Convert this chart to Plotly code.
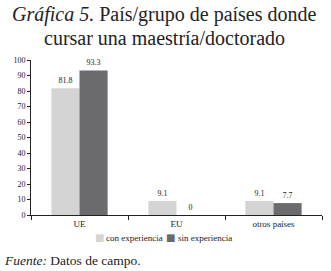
import plotly.graph_objects as go

categories = ["UE", "EU", "otros países"]
con_experiencia = [81.8, 9.1, 9.1]
sin_experiencia = [93.3, 0, 7.7]
series_names = ["con experiencia", "sin experiencia"]
series_colors = ["#d4d4d4", "#6b6b6e"]
y_ticks = [0, 10, 20, 30, 40, 50, 60, 70, 80, 90, 100]
title_lines = ["<i>Gráfica 5.</i> País/grupo de países donde", "cursar una maestría/doctorado"]

FONT = "Liberation Serif"

fig = go.Figure()
for name, vals, col in zip(series_names, [con_experiencia, sin_experiencia], series_colors):
    fig.add_trace(go.Bar(
        x=categories, y=vals, name=name,
        marker=dict(color=col, line=dict(width=0)),
        text=[f"{v:g}" for v in vals], textposition="outside",
        textfont=dict(family=FONT, size=8, color="#222"), cliponaxis=False,
    ))

anns = []
# title, two lines placed separately for tight line spacing
for line, yy in zip(title_lines, [1.292, 1.143]):
    anns.append(dict(text=line, xref="paper", yref="paper", x=0.46, y=yy,
                     xanchor="center", yanchor="middle", showarrow=False,
                     font=dict(family=FONT, size=20, color="#222")))
# source
anns.append(dict(text="<i>Fuente:</i> Datos de campo.", xref="paper", yref="paper",
                 x=-0.1, y=-0.232, xanchor="left", yanchor="top", showarrow=False,
                 font=dict(family=FONT, size=13.5, color="#222")))
# manual compact legend
leg_x = [(0.234, 0.251), (0.481, 0.498)]
for (mx, tx), name, col in zip(leg_x, series_names, series_colors):
    anns.append(dict(text="■", xref="paper", yref="paper", x=mx, y=-0.148,
                     xanchor="center", yanchor="middle", showarrow=False,
                     font=dict(family="DejaVu Sans", size=10, color=col)))
    anns.append(dict(text=name, xref="paper", yref="paper", x=tx, y=-0.148,
                     xanchor="left", yanchor="middle", showarrow=False,
                     font=dict(family=FONT, size=9, color="#222")))

fig.update_layout(
    width=331, height=271,
    margin=dict(l=31, r=9, t=60, b=56, autoexpand=False),
    paper_bgcolor="white", plot_bgcolor="white",
    barmode="group", bargap=0.42, bargroupgap=0,
    font=dict(family=FONT, size=9, color="#222"),
    showlegend=False,
    xaxis=dict(showline=True, linecolor="#222", linewidth=1, ticks="outside",
               ticklen=4, tickcolor="#222", tickson="boundaries", automargin=False,
               tickfont=dict(family=FONT, size=9, color="#222"), showgrid=False),
    yaxis=dict(range=[0, 100], tickvals=y_ticks, showline=True, linecolor="#222",
               linewidth=1, ticks="outside", ticklen=3, tickcolor="#222", automargin=False,
               tickfont=dict(family=FONT, size=8, color="#222"), showgrid=False,
               zeroline=False),
    annotations=anns,
)

fig.write_html("out.html", config={"displayModeBar": False},
               post_script="document.body.style.margin='0';")
